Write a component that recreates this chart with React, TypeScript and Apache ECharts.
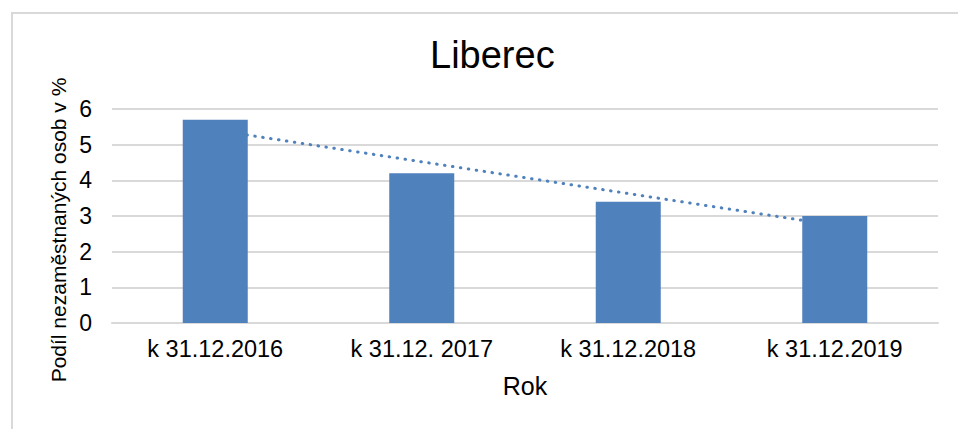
import React, { useEffect, useRef } from "react";
import * as echarts from "echarts";

const titleText = "Liberec";
const categories = ["k 31.12.2016", "k 31.12. 2017", "k 31.12.2018", "k 31.12.2019"];
const shareValues = [5.7, 4.2, 3.4, 3.0];
const yAxisName = "Podíl nezaměstnaných osob v %";
const xAxisName = "Rok";

// Linear trendline (least squares) computed from the bar values, like Excel's
function linearTrend(values: number[]): number[] {
  const n = values.length;
  const xs = values.map((_, i) => i + 1);
  const mx = xs.reduce((a, b) => a + b, 0) / n;
  const my = values.reduce((a, b) => a + b, 0) / n;
  let sxy = 0;
  let sxx = 0;
  for (let i = 0; i < n; i++) {
    sxy += (xs[i] - mx) * (values[i] - my);
    sxx += (xs[i] - mx) * (xs[i] - mx);
  }
  const slope = sxy / sxx;
  return xs.map((x) => my + slope * (x - mx));
}

const FONT = "'Liberation Sans', Arial, sans-serif";
const BLUE = "#4f81bd";

export default function App() {
  const ref = useRef<HTMLDivElement>(null);
  useEffect(() => {
    if (!ref.current) return;
    const chart = echarts.init(ref.current, undefined, { renderer: "svg" });
    const trend = linearTrend(shareValues);
    chart.setOption({
      animation: false,
      backgroundColor: "#ffffff",
      textStyle: { fontFamily: FONT },
      title: {
        text: titleText,
        left: 425,
        top: 31,
        textStyle: { fontFamily: FONT, fontSize: 38, fontWeight: "normal", color: "#000" },
      },
      graphic: [
        {
          type: "rect",
          shape: { x: 12, y: 13, width: 1000, height: 500 },
          style: { fill: "none", stroke: "#d9d9d9", lineWidth: 2 },
          silent: true,
        },
        {
          type: "text",
          x: 58,
          y: 230,
          rotation: Math.PI / 2,
          style: {
            text: yAxisName,
            fontFamily: FONT,
            fontSize: 21,
            fill: "#000",
            align: "center",
            verticalAlign: "middle",
          },
          silent: true,
        },
      ],
      grid: { left: 112, right: 20, top: 109, bottom: 106, containLabel: false },
      xAxis: {
        type: "category",
        data: categories,
        name: xAxisName,
        nameLocation: "middle",
        nameGap: 50,
        nameTextStyle: { fontFamily: FONT, fontSize: 25, color: "#000" },
        axisLine: { lineStyle: { color: "#d9d9d9", width: 2 } },
        axisTick: { show: false },
        axisLabel: { fontFamily: FONT, fontSize: 23.5, color: "#000", margin: 14, interval: 0 },
      },
      yAxis: {
        type: "value",
        min: 0,
        max: 6,
        interval: 1,
        axisLine: { show: false },
        axisTick: { show: false },
        axisLabel: { fontFamily: FONT, fontSize: 23, color: "#000", margin: 20 },
        splitLine: { lineStyle: { color: "#d9d9d9", width: 2 } },
      },
      series: [
        {
          type: "line",
          data: trend,
          symbol: "none",
          z: 1,
          lineStyle: { color: BLUE, width: 3, type: [0.5, 7.5], cap: "round" },
        },
        {
          type: "bar",
          data: shareValues,
          barWidth: 65,
          z: 2,
          itemStyle: { color: BLUE },
        },
      ],
    });
    return () => chart.dispose();
  }, []);
  return (
    <div
      ref={ref}
      style={{ position: "fixed", left: 0, top: 0, width: 958, height: 429 }}
    />
  );
}
